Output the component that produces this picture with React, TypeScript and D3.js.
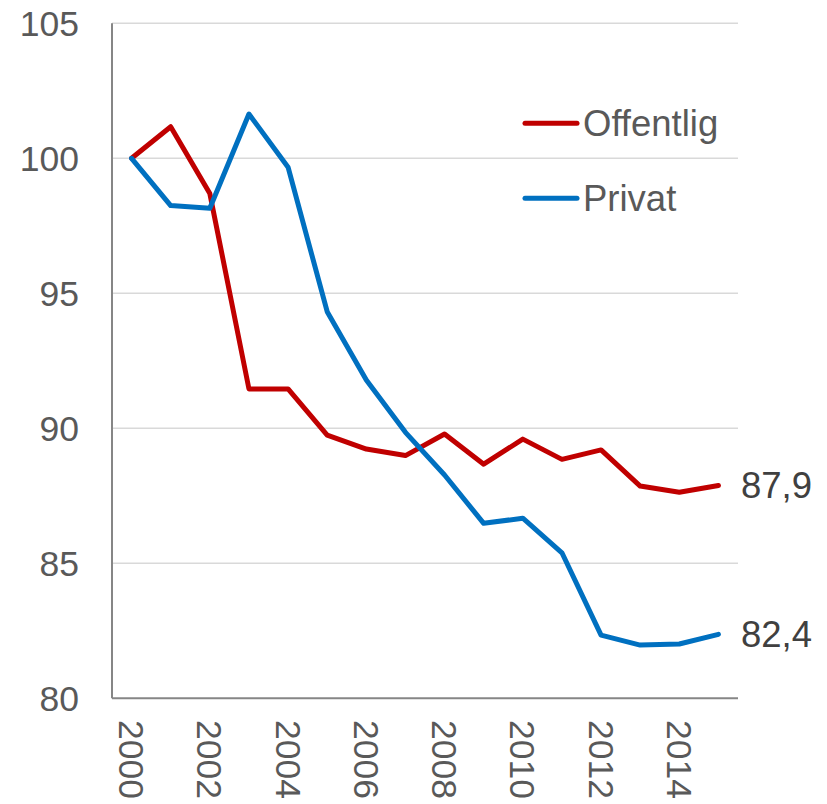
import React from "react";
import * as d3 from "d3";

const years = [2000, 2001, 2002, 2003, 2004, 2005, 2006, 2007, 2008, 2009, 2010, 2011, 2012, 2013, 2014, 2015];
const offentlig = [100, 101.17, 98.7, 91.46, 91.46, 89.75, 89.23, 88.99, 89.79, 88.67, 89.6, 88.85, 89.2, 87.86, 87.63, 87.88];
const privat = [100, 98.25, 98.15, 101.64, 99.67, 94.32, 91.79, 89.85, 88.27, 86.48, 86.67, 85.39, 82.34, 81.97, 82.01, 82.37];
const yTicks = [80, 85, 90, 95, 100, 105];
const xTickYears = [2000, 2002, 2004, 2006, 2008, 2010, 2012, 2014];
const endLabels = ["87,9", "82,4"];

const series = [
  { name: "Offentlig", values: offentlig, color: "#C00000" },
  { name: "Privat", values: privat, color: "#0070C0" },
];

const width = 827;
const height = 804;
const marginLeft = 112;
const marginRight = 89; // plot ends at 738
const marginTop = 23.3;
const marginBottom = 105.7; // x-axis at 698.3
const font = "'Liberation Sans', Arial, sans-serif";

export default function App() {
  const x = d3.scaleBand<number>().domain(years).range([marginLeft, width - marginRight]);
  const y = d3.scaleLinear().domain([80, 105]).range([height - marginBottom, marginTop]);
  const cx = (yr: number) => (x(yr) as number) + x.bandwidth() / 2;

  const line = d3.line<number>()
    .x((_, i) => cx(years[i]))
    .y(d => y(d));

  const legendY = [123.3, 198.3];

  return (
    <svg width={width} height={height} style={{ position: "absolute", left: 0, top: 0, background: "#fff" }}
      fontFamily={font}>
      {/* gridlines */}
      {yTicks.filter(t => t > 80).map(t => (
        <line key={t} x1={marginLeft} x2={width - marginRight} y1={y(t)} y2={y(t)}
          stroke="#D9D9D9" strokeWidth={1.5} />
      ))}
      {/* axes */}
      <line x1={marginLeft} x2={marginLeft} y1={y(105)} y2={y(80)} stroke="#868686" strokeWidth={2} />
      <line x1={marginLeft} x2={width - marginRight} y1={y(80)} y2={y(80)} stroke="#868686" strokeWidth={2} />

      {/* y labels */}
      {yTicks.map(t => (
        <text key={t} x={79} y={y(t)} dy="0.35em" textAnchor="end" fontSize={35.5} fill="#595959">{t}</text>
      ))}

      {/* x labels */}
      {xTickYears.map(yr => (
        <text key={yr} transform={`translate(${cx(yr)},720) rotate(90)`} dy="0.35em"
          textAnchor="start" fontSize={35.5} fill="#595959">{yr}</text>
      ))}

      {/* lines */}
      {series.map(s => (
        <path key={s.name} d={line(s.values) || ""} fill="none" stroke={s.color}
          strokeWidth={5} strokeLinejoin="round" strokeLinecap="round" />
      ))}

      {/* end labels */}
      {series.map((s, i) => (
        <text key={s.name} x={741} y={y(s.values[s.values.length - 1])} dy="0.35em"
          fontSize={36.5} fill="#404040">{endLabels[i]}</text>
      ))}

      {/* legend */}
      {series.map((s, i) => (
        <g key={s.name}>
          <line x1={525} x2={577} y1={legendY[i]} y2={legendY[i]} stroke={s.color}
            strokeWidth={5} strokeLinecap="round" />
          <text x={583} y={legendY[i]} dy="0.35em" fontSize={36.5} fill="#595959">{s.name}</text>
        </g>
      ))}
    </svg>
  );
}
